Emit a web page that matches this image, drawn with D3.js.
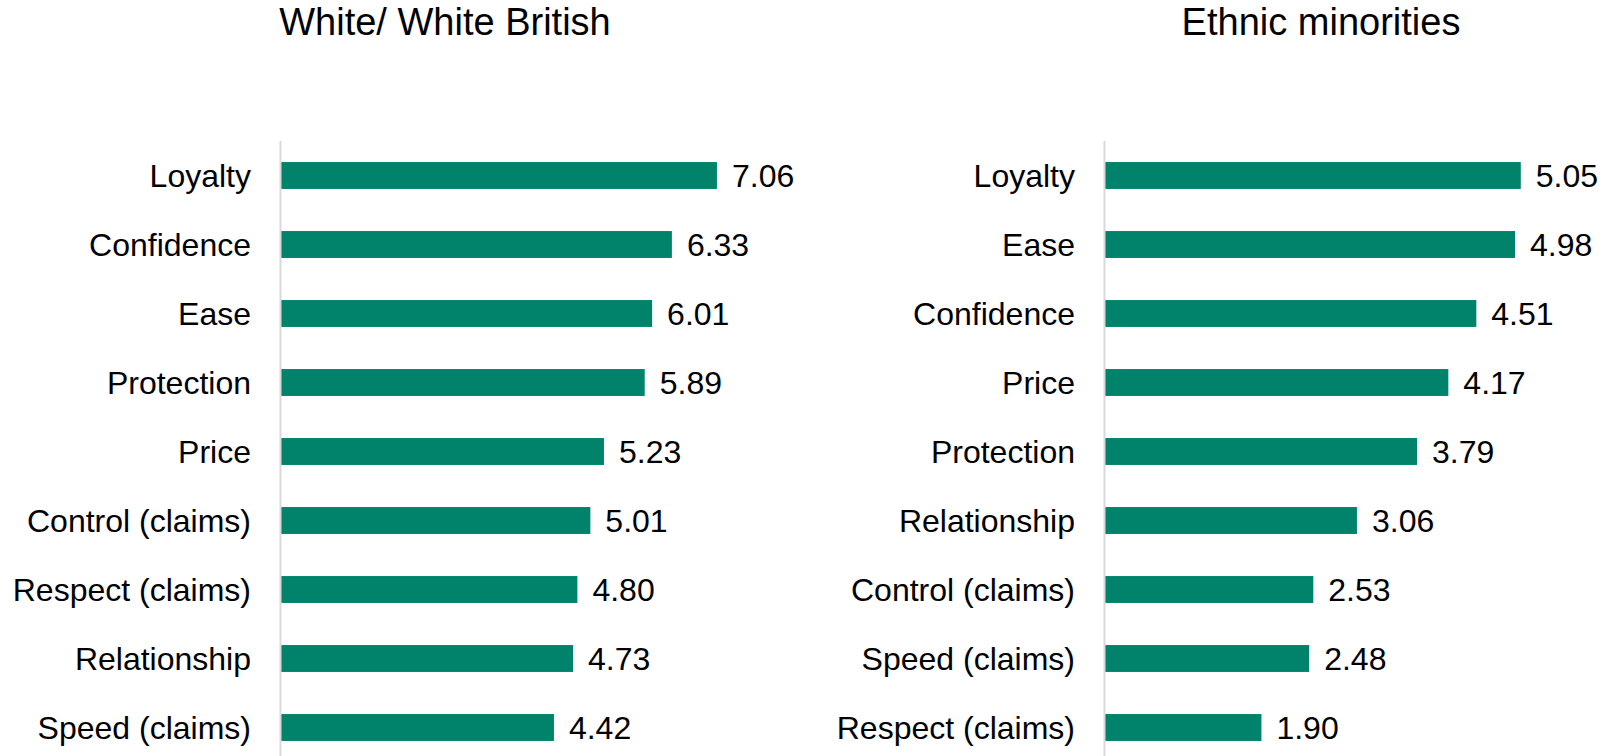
<!DOCTYPE html>
<html>
<head>
<meta charset="utf-8">
<script src="https://cdn.jsdelivr.net/npm/d3@7"></script>
<style>
  html, body { margin: 0; padding: 0; background: #fff; }
  svg { display: block; font-family: 'Liberation Sans', Arial, sans-serif; }
</style>
</head>
<body>
<script>
// data
var whiteTitle = 'White/ White British';
var whiteCats = ['Loyalty', 'Confidence', 'Ease', 'Protection', 'Price', 'Control (claims)', 'Respect (claims)', 'Relationship', 'Speed (claims)'];
var whiteVals = [7.06, 6.33, 6.01, 5.89, 5.23, 5.01, 4.80, 4.73, 4.42];

var ethnicTitle = 'Ethnic minorities';
var ethnicCats = ['Loyalty', 'Ease', 'Confidence', 'Price', 'Protection', 'Relationship', 'Control (claims)', 'Speed (claims)', 'Respect (claims)'];
var ethnicVals = [5.05, 4.98, 4.51, 4.17, 3.79, 3.06, 2.53, 2.48, 1.90];

var w = 1604;
var h = 756;
var barColor = '#00836A';
var axisColor = '#d9d9d9';
var fmt = d3.format('.2f');

var svg = d3.select('body')
  .append('svg')
  .attr('width', w)
  .attr('height', h);

var drawPanel = (opts) => {
  var g = svg.append('g');

  var x = d3.scaleLinear()
    .domain([0, opts.max])
    .range([opts.left, opts.left + 494]);

  var y = d3.scaleBand()
    .domain(opts.cats)
    .range([141, 141 + 9 * 69])
    .paddingInner(0.61)
    .paddingOuter(0.305);

  var rows = opts.cats.map((c, i) => ({ cat: c, val: opts.vals[i] }));

  g.append('text')
    .attr('x', opts.titleX)
    .attr('y', 35)
    .attr('text-anchor', 'middle')
    .attr('font-size', 38)
    .attr('fill', '#000')
    .text(opts.title);

  g.selectAll('.bar')
    .data(rows)
    .enter()
    .append('rect')
    .attr('class', 'bar')
    .attr('x', x(0))
    .attr('y', d => y(d.cat))
    .attr('width', d => x(d.val) - x(0))
    .attr('height', y.bandwidth())
    .attr('fill', barColor);

  // vertical axis line
  g.append('line')
    .attr('x1', x(0) - 0.5)
    .attr('x2', x(0) - 0.5)
    .attr('y1', 141)
    .attr('y2', 141 + 9 * 69)
    .attr('stroke', axisColor)
    .attr('stroke-width', 2);

  g.selectAll('.cat')
    .data(rows)
    .enter()
    .append('text')
    .attr('class', 'cat')
    .attr('x', x(0) - 30)
    .attr('y', d => y(d.cat) + y.bandwidth() / 2 + 11)
    .attr('text-anchor', 'end')
    .attr('font-size', 32)
    .attr('fill', '#000')
    .text(d => d.cat);

  g.selectAll('.val')
    .data(rows)
    .enter()
    .append('text')
    .attr('class', 'val')
    .attr('x', d => x(d.val) + 15)
    .attr('y', d => y(d.cat) + y.bandwidth() / 2 + 11)
    .attr('font-size', 32)
    .attr('fill', '#000')
    .text(d => fmt(d.val));
};

drawPanel({ title: whiteTitle, cats: whiteCats, vals: whiteVals, max: 8, left: 281, titleX: 445 });
drawPanel({ title: ethnicTitle, cats: ethnicCats, vals: ethnicVals, max: 6, left: 1105, titleX: 1321 });
</script>
</body>
</html>
